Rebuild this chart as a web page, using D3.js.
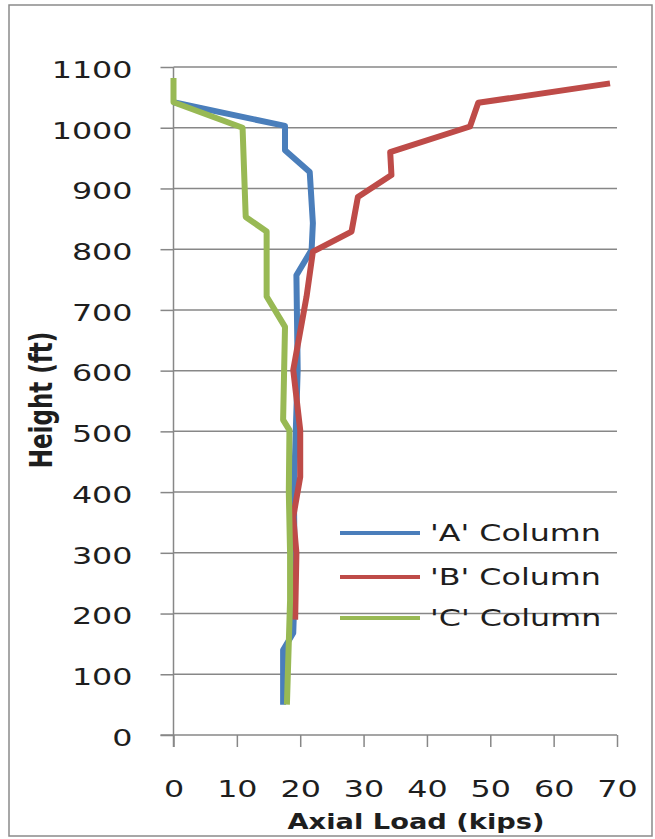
<!DOCTYPE html>
<html>
<head>
<meta charset="utf-8">
<script src="https://cdn.jsdelivr.net/npm/d3@7"></script>
<style>
  html, body { margin: 0; padding: 0; background: #fff; }
  svg { display: block; }
  text { font-family: "DejaVu Sans", Verdana, sans-serif; fill: #1e1e1e; }
</style>
</head>
<body>
<svg id="chart" width="655" height="839"></svg>
<script>
// Axial load (kips) versus height (ft) for three columns
const seriesNames = ["'A' Column", "'B' Column", "'C' Column"];
const seriesColors = ["#4A7EBB", "#BE4B48", "#98B954"];

const loadA   = [0, 17.6, 17.6, 21.5, 22.0, 21.8, 19.4, 19.6, 19.3, 19.0, 19.1, 19.0, 18.9, 17.3, 17.3];
const heightA = [1042, 1003, 963, 927, 843, 799, 757, 601, 500, 400, 300, 200, 168, 140, 50];

const loadB   = [68.9, 48.1, 46.8, 34.2, 34.4, 29.1, 28.1, 22.0, 21.0, 18.9, 20.0, 20.0, 18.9, 19.4, 19.2];
const heightB = [1073, 1041, 1002, 960, 922, 886, 829, 796, 722, 601, 502, 425, 359, 300, 190];

const loadC   = [0, 0, 10.9, 11.4, 14.7, 14.7, 17.6, 17.3, 18.3, 18.2, 18.4, 18.4, 17.9];
const heightC = [1082, 1042, 1000, 853, 829, 722, 672, 519, 502, 400, 300, 222, 50];

const xTicks = [0, 10, 20, 30, 40, 50, 60, 70];
const yTicks = [0, 100, 200, 300, 400, 500, 600, 700, 800, 900, 1000, 1100];

const series = [
  { name: seriesNames[0], color: seriesColors[0], load: loadA, height: heightA },
  { name: seriesNames[1], color: seriesColors[1], load: loadB, height: heightB },
  { name: seriesNames[2], color: seriesColors[2], load: loadC, height: heightC }
];

const svg = d3.select("#chart");
const STRETCH = 1.38;     // horizontal widening of the lettering
const gridColor = "#878787";

const x = d3.scaleLinear().domain([0, 70]).range([173.5, 617]);
const y = d3.scaleLinear().domain([0, 1100]).range([735, 67]);

// widen a text element horizontally while keeping its anchor
function widen(sel, k = STRETCH) {
  sel.each(function () {
    const len = this.getComputedTextLength();
    d3.select(this)
      .attr("textLength", len * k)
      .attr("lengthAdjust", "spacingAndGlyphs");
  });
}

// outer chart frame
svg.append("rect")
  .attr("x", 9).attr("y", 5).attr("width", 643).attr("height", 831)
  .attr("fill", "#fff").attr("stroke", "#8a8a8a").attr("stroke-width", 1.5);

// horizontal gridlines
svg.append("g")
  .selectAll("line")
  .data(yTicks.filter(d => d > 0))
  .join("line")
  .attr("x1", x(0)).attr("x2", x(70))
  .attr("y1", d => y(d)).attr("y2", d => y(d))
  .attr("stroke", gridColor).attr("stroke-width", 1.5);

// y axis
const yAxis = svg.append("g")
  .attr("transform", `translate(${x(0)},0)`)
  .call(d3.axisLeft(y).tickValues(yTicks).tickFormat(d3.format("d"))
    .tickSize(13).tickPadding(28).tickSizeOuter(0));
yAxis.select(".domain").attr("stroke", gridColor).attr("stroke-width", 1.5)
  .attr("d", `M0,${y(1100)}V${y(0) + 12}`);
yAxis.selectAll(".tick line").attr("stroke", gridColor).attr("stroke-width", 1.5);
yAxis.selectAll(".tick text")
  .attr("font-size", 23).attr("dy", "0.45em")
  .style("font-family", "'DejaVu Sans', Verdana, sans-serif").attr("fill", "#1e1e1e")
  .call(widen);

// x axis
const xAxis = svg.append("g")
  .attr("transform", `translate(0,${y(0)})`)
  .call(d3.axisBottom(x).tickValues(xTicks).tickFormat(d3.format("d"))
    .tickSize(12).tickPadding(0).tickSizeOuter(0));
xAxis.select(".domain").attr("stroke", gridColor).attr("stroke-width", 1.5)
  .attr("d", `M${x(0) - 13},0H${x(70)}`);
xAxis.selectAll(".tick line").attr("stroke", gridColor).attr("stroke-width", 1.5);
xAxis.selectAll(".tick text")
  .attr("font-size", 23).attr("y", 62).attr("dy", 0)
  .style("font-family", "'DejaVu Sans', Verdana, sans-serif").attr("fill", "#1e1e1e")
  .call(widen);

// axis titles
svg.append("text")
  .attr("x", 416).attr("y", 829)
  .attr("text-anchor", "middle")
  .attr("font-size", 22).attr("font-weight", "bold")
  .text("Axial Load (kips)")
  .call(widen, 1.24);

svg.append("text")
  .attr("transform", `translate(52,400) scale(${STRETCH},1) rotate(-90)`)
  .attr("text-anchor", "middle")
  .attr("font-size", 23).attr("font-weight", "bold")
  .text("Height (ft)");

// series lines
const line = d3.line()
  .x(d => x(d[0]))
  .y(d => y(d[1]));

svg.append("g")
  .selectAll("path")
  .data(series)
  .join("path")
  .attr("d", s => line(s.load.map((v, i) => [v, s.height[i]])))
  .attr("fill", "none")
  .attr("stroke", s => s.color)
  .attr("stroke-width", 6)
  .attr("stroke-linejoin", "round")
  .attr("stroke-linecap", "butt");

// legend
const legendY = [533, 577, 618];
const legend = svg.append("g")
  .selectAll("g")
  .data(series)
  .join("g")
  .attr("transform", (d, i) => `translate(340,${legendY[i]})`);
legend.append("line")
  .attr("x1", 0).attr("x2", 80)
  .attr("stroke", d => d.color).attr("stroke-width", 4);
legend.append("text")
  .attr("x", 90).attr("dy", "0.36em")
  .attr("font-size", 23)
  .text(d => d.name)
  .call(widen);
</script>
</body>
</html>
